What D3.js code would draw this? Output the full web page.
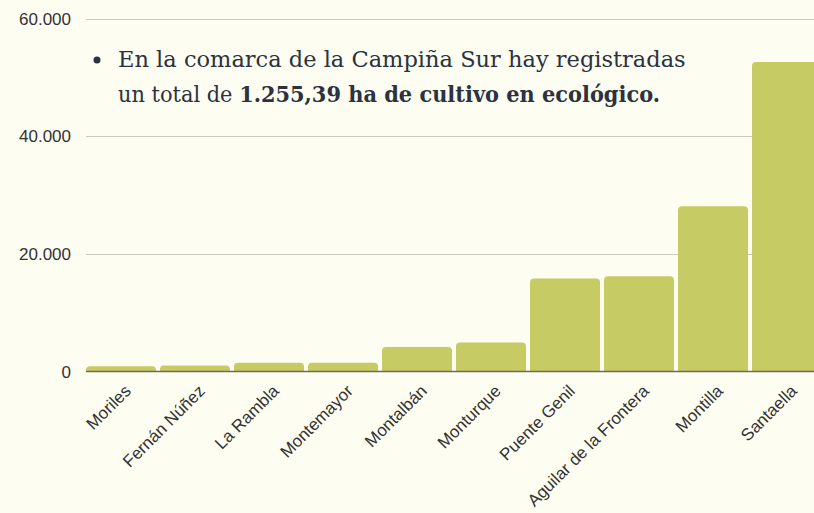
<!DOCTYPE html>
<html>
<head>
<meta charset="utf-8">
<script src="https://cdn.jsdelivr.net/npm/d3@7"></script>
<style>
  html, body { margin: 0; padding: 0; background: #fdfdf2; overflow: hidden; }
  svg { display: block; }
</style>
</head>
<body>
<script>
// data
var municipios = ["Moriles", "Fernán Núñez", "La Rambla", "Montemayor", "Montalbán",
                  "Monturque", "Puente Genil", "Aguilar de la Frontera", "Montilla", "Santaella"];
var hectareas = [900, 1000, 1500, 1500, 4150, 4950, 15800, 16200, 28100, 52600];
var yTicks = [0, 20000, 40000, 60000];
var nota1 = "En la comarca de la Campiña Sur hay registradas";
var nota2a = "un total de ";
var nota2b = "1.255,39 ha de cultivo en ecológico.";

var width = 814, height = 513;
var plotLeft = 86, plotBase = 371.5, plotTop = 18.5;

var es = d3.formatLocale({decimal: ",", thousands: ".", grouping: [3], currency: ["", " €"]});
var fmt = es.format(",.0f");

var svg = d3.select("body").append("svg")
    .attr("width", width)
    .attr("height", height);

svg.append("rect")
    .attr("width", width)
    .attr("height", height)
    .attr("fill", "#fdfdf2");

var x = d3.scaleBand()
    .domain(municipios)
    .range([plotLeft, plotLeft + 74 * municipios.length - 4])
    .paddingInner(4 / 74)
    .paddingOuter(0);

var y = d3.scaleLinear()
    .domain([0, 60000])
    .range([plotBase, plotTop]);

//grid lines
svg.append("g").selectAll("line")
    .data(yTicks.filter(function(d) { return d > 0; }))
    .enter().append("line")
    .attr("x1", plotLeft)
    .attr("x2", width)
    .attr("y1", function(d) { return Math.round(y(d)) + 0.5; })
    .attr("y2", function(d) { return Math.round(y(d)) + 0.5; })
    .attr("stroke", "#c9c9c0")
    .attr("stroke-width", 1);

//y labels
svg.append("g").selectAll("text")
    .data(yTicks)
    .enter().append("text")
    .attr("x", 71)
    .attr("y", function(d) { return y(d); })
    .attr("dy", "0.36em")
    .attr("text-anchor", "end")
    .attr("font-family", "Liberation Sans, Arial, sans-serif")
    .attr("font-size", 17)
    .attr("fill", "#333")
    .text(function(d) { return fmt(d); });

//bars, rounded only at the top
function barPath(d) {
    var x0 = x(d.name), w = x.bandwidth(), y0 = y(d.value), h = plotBase - y0;
    var r = Math.min(4, h);
    return "M" + x0 + "," + plotBase +
        "V" + (y0 + r) +
        "Q" + x0 + "," + y0 + " " + (x0 + r) + "," + y0 +
        "H" + (x0 + w - r) +
        "Q" + (x0 + w) + "," + y0 + " " + (x0 + w) + "," + (y0 + r) +
        "V" + plotBase + "Z";
}

var rows = municipios.map(function(m, i) { return {name: m, value: hectareas[i]}; });

svg.append("g").selectAll("path")
    .data(rows)
    .enter().append("path")
    .attr("d", barPath)
    .attr("fill", "#c6cb63");

//baseline
svg.append("line")
    .attr("x1", plotLeft)
    .attr("x2", width)
    .attr("y1", plotBase)
    .attr("y2", plotBase)
    .attr("stroke", "#6b6b62")
    .attr("stroke-width", 1.5);

//x labels
svg.append("g").selectAll("text")
    .data(municipios)
    .enter().append("text")
    .attr("transform", function(d) {
        return "translate(" + (x(d) + x.bandwidth() / 2 + 11) + "," + 392 + ") rotate(-45)";
    })
    .attr("text-anchor", "end")
    .attr("font-family", "Liberation Sans, Arial, sans-serif")
    .attr("font-size", 17)
    .attr("fill", "#333")
    .text(function(d) { return d; });

//annotation
var note = svg.append("g").attr("fill", "#2b3240")
    .attr("font-family", "DejaVu Serif, serif");

note.append("circle")
    .attr("cx", 97)
    .attr("cy", 60)
    .attr("r", 3.5);

var l1 = note.append("text")
    .attr("x", 118)
    .attr("y", 67)
    .attr("font-size", 22)
    .text(nota1);

var fs = 22 * 568 / l1.node().getComputedTextLength();
l1.attr("font-size", fs);

var l2 = note.append("text")
    .attr("x", 118)
    .attr("y", 102)
    .attr("font-size", fs)
    .attr("textLength", 542)
    .attr("lengthAdjust", "spacingAndGlyphs");
l2.append("tspan").text(nota2a);
l2.append("tspan").attr("font-weight", "bold").text(nota2b);
</script>
</body>
</html>
